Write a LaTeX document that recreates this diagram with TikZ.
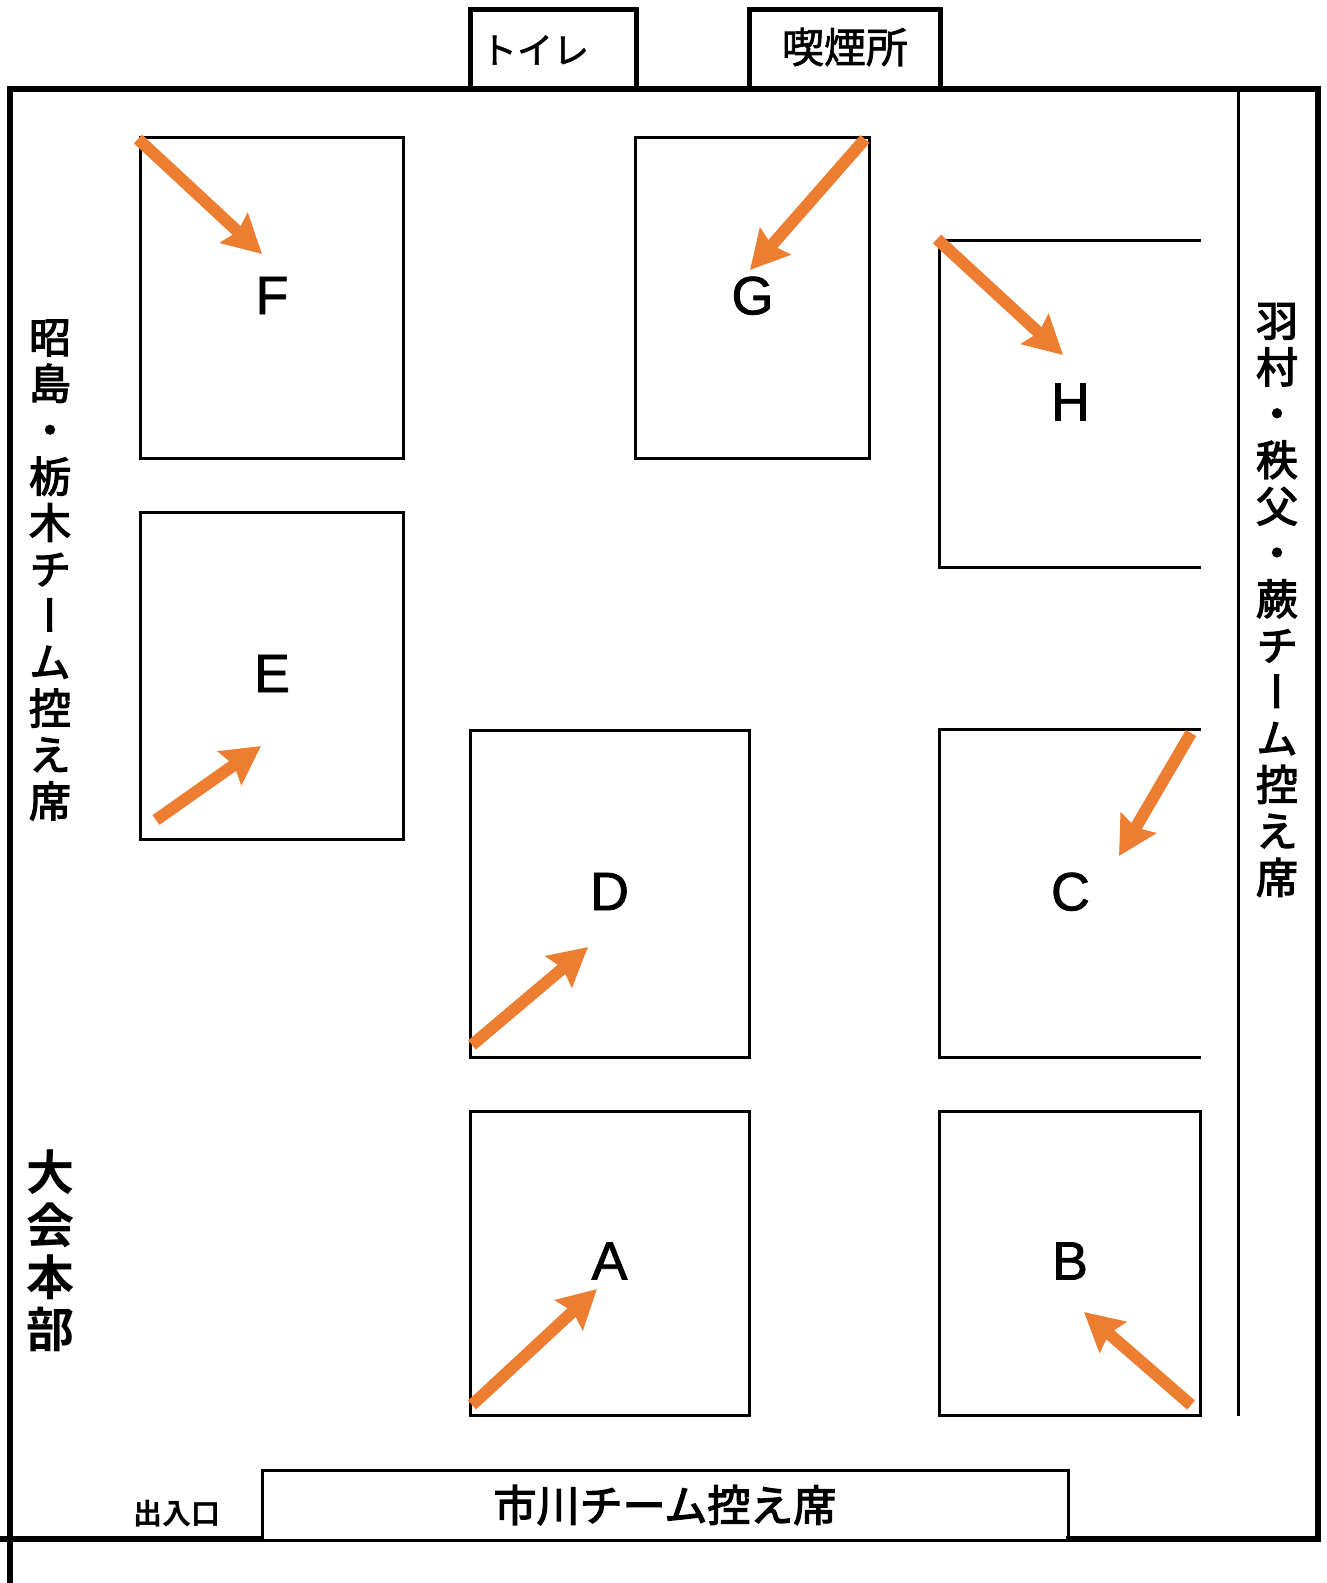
\documentclass[tikz,border=0pt]{standalone}
\usepackage{fontspec}
\usepackage{tikz}
\usetikzlibrary{arrows.meta}
\setmainfont[FakeBold=1.4]{Liberation Sans}
\newfontfamily\cjk[FakeBold=1.6]{Noto Sans CJK JP}
\newfontfamily\cjkv[RawFeature=+vert,FakeBold=3]{Noto Sans CJK JP}
\newfontfamily\cjkm[FakeBold=3]{Noto Sans CJK JP}
\newfontfamily\cjkb{Noto Sans CJK JP Bold}

\definecolor{orangeflow}{HTML}{ED7D31}
\tikzset{
wall/.style={draw,line width=6pt},
court/.style={draw,line width=3pt,inner sep=0pt,text depth=4pt,font=\fontsize{54}{54}\selectfont},
opencourt/.style={inner sep=0pt,text depth=4pt,font=\fontsize{54}{54}\selectfont},
courtline/.style={line width=3pt},
room/.style={line width=5pt},
flow/.style={draw=orangeflow,line width=12pt,-{Stealth[length=38pt,width=40pt,inset=5pt]}},
teamv/.style={align=center,inner sep=0pt,font=\cjkv\fontsize{42}{46.4}\selectfont},
}

\begin{document}
\begin{tikzpicture}[x=1pt,y=-1pt]
\useasboundingbox (0,0) rectangle (1327,1583);

% side rooms
\draw[room] (470,89) -- (470,9) -- (636,9) -- (636,89);
\draw[room] (749,89) -- (749,9) -- (940,9) -- (940,89);
\node[inner sep=0pt,font=\cjk\fontsize{36}{36}\selectfont] (toilet) at (535,50) {トイレ};
\node[inner sep=0pt,font=\cjk\fontsize{42}{42}\selectfont] (smoke) at (845,47) {喫煙所};

% outer walls
\draw[wall] (10,1583) -- (10,89) -- (1318,89) -- (1318,1539) -- (1066,1539);
\draw[wall] (0,1539) -- (264,1539);
\draw[courtline] (1238,89) -- (1238,1416);

% bench and entrance
\node[draw,line width=3pt,inner sep=0pt,minimum width=806pt,minimum height=70pt,font=\cjkm\fontsize{43}{43}\selectfont] (ichikawa) at (665,1505) {市川チーム控え席};
\node[inner sep=0pt,font=\cjkb\fontsize{29}{29}\selectfont] (door) at (177,1514) {出入口};

% courts
\node[court,minimum width=263pt,minimum height=321pt] (F) at (272,297.5) {F};
\node[court,minimum width=234pt,minimum height=321pt] (G) at (752.5,297.5) {G};
\node[court,minimum width=263pt,minimum height=327pt] (E) at (272,675.5) {E};
\node[court,minimum width=279pt,minimum height=327pt] (D) at (609.5,893.5) {D};
\node[court,minimum width=279pt,minimum height=304pt] (A) at (609.5,1263) {A};
\node[court,minimum width=261pt,minimum height=304pt] (B) at (1070,1263) {B};
\node[opencourt,minimum width=261pt,minimum height=326pt] (H) at (1070.5,404) {H};
\node[opencourt,minimum width=261pt,minimum height=327pt] (C) at (1070.5,893.5) {C};
\draw[courtline] (H.north east) -- (H.north west) -- (H.south west) -- (H.south east);
\draw[courtline] (C.north east) -- (C.north west) -- (C.south west) -- (C.south east);

% team seats
\node[teamv] (west) at (50,570) {昭\\島\\・\\栃\\木\\チ\\ー\\ム\\控\\え\\席};
\node[teamv] (east) at (1277,600) {羽\\村\\・\\秩\\父\\・\\蕨\\チ\\ー\\ム\\控\\え\\席};
\node[align=center,inner sep=0pt,font=\cjkb\fontsize{48}{52.3}\selectfont] (hq) at (50,1251) {大\\会\\本\\部};

% directions
\coordinate (Fs) at (138,139);   \coordinate (Ft) at (262,254);
\coordinate (Gs) at (865,139);   \coordinate (Gt) at (750,270);
\coordinate (Hs) at (937,239);   \coordinate (Ht) at (1063,355);
\coordinate (Es) at (156,820);   \coordinate (Et) at (261,746);
\coordinate (Ds) at (472,1045);  \coordinate (Dt) at (588,947);
\coordinate (Cs) at (1191,733);  \coordinate (Ct) at (1119,856);
\coordinate (As) at (472,1405);  \coordinate (At) at (597,1289);
\coordinate (Bs) at (1191,1405); \coordinate (Bt) at (1084,1312);
\foreach \n in {F,G,H,E,D,C,A,B}
\draw[flow] (\n s) -- (\n t);
\end{tikzpicture}
\end{document}
